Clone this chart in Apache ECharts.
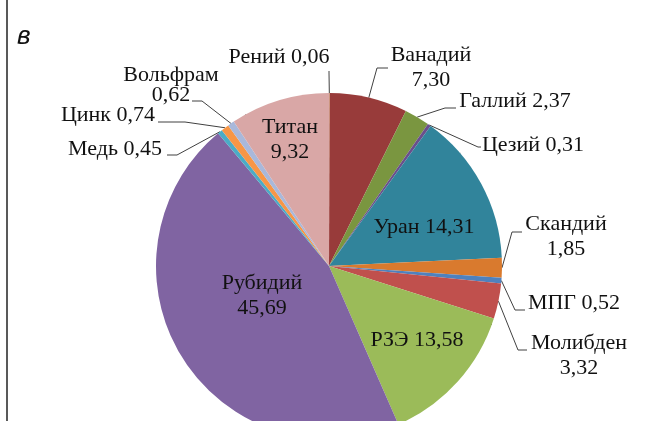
<!DOCTYPE html>
<html>
<head>
<meta charset="utf-8">
<script src="https://cdn.jsdelivr.net/npm/echarts@6/dist/echarts.min.js"></script>
<style>
  html, body { margin: 0; padding: 0; background: #fff; }
  #chart { width: 645px; height: 421px; }
</style>
</head>
<body>
<div id="chart"></div>
<script>
// данные диаграммы
const names = ['Рений', 'Ванадий', 'Галлий', 'Цезий', 'Уран', 'Скандий', 'МПГ', 'Молибден', 'РЗЭ', 'Рубидий', 'Медь', 'Цинк', 'Вольфрам', 'Титан']
const values = [0.06, 7.30, 2.37, 0.31, 14.31, 1.85, 0.52, 3.32, 13.58, 45.69, 0.45, 0.74, 0.62, 9.32]
const colors = ['#e2b27a', '#983b3a', '#7a9640', '#6a4f8c', '#31849b', '#d97a2e', '#4f81bd', '#c0504d', '#9bbb59', '#8064a2', '#4bacc6', '#f79646', '#a9b8da', '#d9a7a6']

// подписи в две строки и подписи внутри сектора
const twoLines = ['Ванадий', 'Скандий', 'Молибден', 'Вольфрам', 'Титан', 'Рубидий']
const insideLabels = ['Уран', 'РЗЭ', 'Рубидий', 'Титан']

// центр подписи и точки выноски (после точки на краю круга)
const labelPos = {
  'Рений': [279, 57, [[329, 73], [329, 71]]],
  'Ванадий': [431, 68, [[377, 68], [388, 68]]],
  'Галлий': [515, 101, [[445, 108], [456, 108]]],
  'Цезий': [533, 145, [[478, 147], [481, 147]]],
  'Уран': [424, 227],
  'Скандий': [566, 237, [[512, 232], [522, 232]]],
  'МПГ': [574, 303, [[515, 310], [525, 310]]],
  'Молибден': [579, 356, [[518, 350], [527, 350]]],
  'РЗЭ': [417, 340],
  'Рубидий': [262, 296],
  'Медь': [115, 149, [[177, 155], [167, 155]]],
  'Цинк': [108, 115, [[185, 122], [158, 122]]],
  'Вольфрам': [171, 85, [[202, 101], [192, 101]]],
  'Титан': [290, 140]
}

const fmt = v => v.toFixed(2).replace('.', ',')

const pieData = names.map((n, i) => {
  const item = { name: n, value: values[i], itemStyle: { color: colors[i] } }
  if (insideLabels.includes(n)) item.label = { position: 'inside' }
  if (n === 'Вольфрам') item.label = { lineHeight: 20 }
  return item
})

const chart = echarts.init(document.getElementById('chart'))
chart.setOption({
  animation: false,
  graphic: [
    { // рамка слева
      type: 'line',
      shape: { x1: 7, y1: 0, x2: 7, y2: 421 },
      style: { stroke: '#222', lineWidth: 1.5 }
    },
    {
      type: 'text',
      left: 17,
      top: 24,
      style: { text: 'в', font: 'italic 26px "Liberation Sans", Arial, sans-serif', fill: '#111' }
    }
  ],
  series: [
    {
      type: 'pie',
      center: [329, 266],
      radius: 173,
      startAngle: 90,
      clockwise: true,
      avoidLabelOverlap: false,
      data: pieData,
      label: {
        show: true,
        color: '#111',
        fontFamily: 'Times New Roman, Liberation Serif, DejaVu Serif, serif',
        fontSize: 22,
        lineHeight: 25,
        formatter: p => p.name + (twoLines.includes(p.name) ? '\n' : ' ') + fmt(p.value)
      },
      labelLine: {
        show: true,
        lineStyle: { color: '#404040', width: 1 }
      },
      labelLayout: function (params) {
        const p = labelPos[names[params.dataIndex]]
        const res = { x: p[0], y: p[1], align: 'center', verticalAlign: 'middle' }
        if (params.labelLinePoints && p[2]) {
          res.labelLinePoints = [params.labelLinePoints[0]].concat(p[2])
        }
        return res
      }
    }
  ]
})
</script>
</body>
</html>
